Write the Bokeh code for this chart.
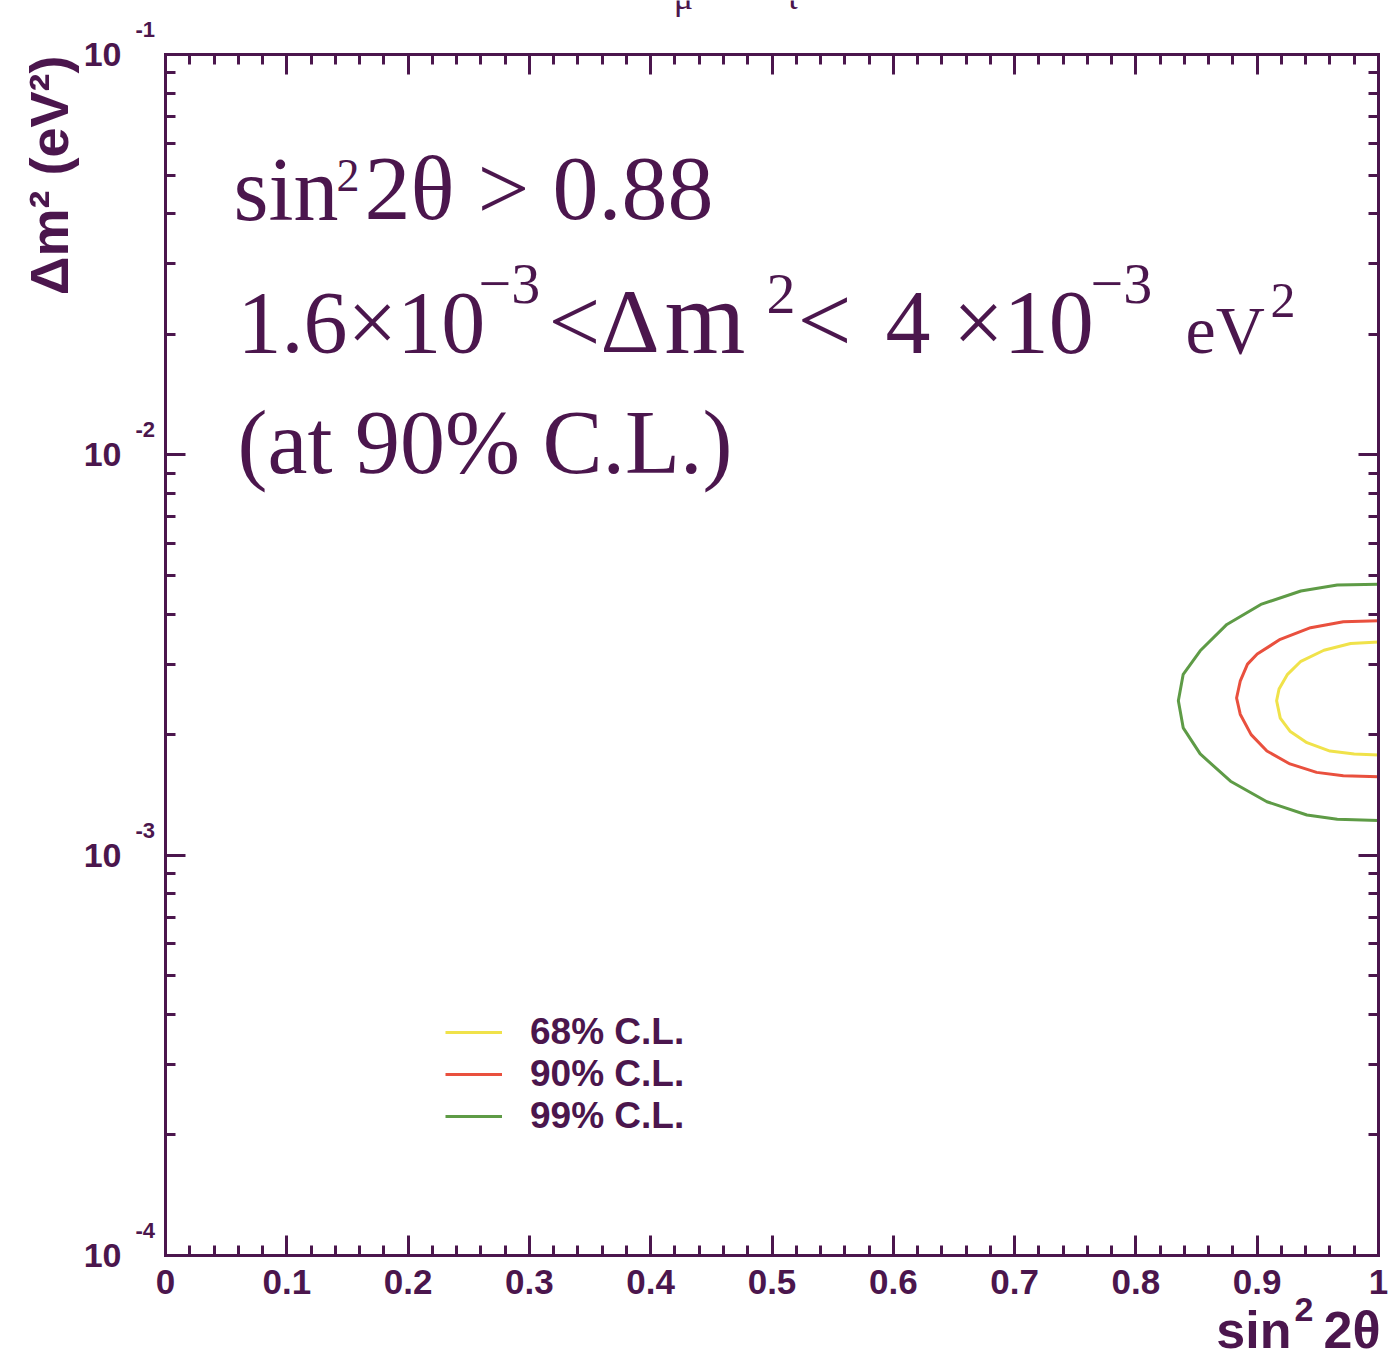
import math
from bokeh.plotting import figure
from bokeh.models import (Label, LinearAxis, LogAxis, FixedTicker, LogTicker,
                          Range1d, Legend, LegendItem, CustomJSTickFormatter)
from bokeh.embed import file_html
from bokeh.resources import INLINE

# ---- allowed-region contours (sin^2 2theta, delta m^2 in eV^2) ----
cl68_sin2 = [1.0, 0.977, 0.955, 0.936, 0.925, 0.918, 0.916, 0.919, 0.927, 0.941, 0.960, 0.980, 1.0]
cl68_dm2 = [3.41e-3, 3.38e-3, 3.25e-3, 3.05e-3, 2.83e-3, 2.60e-3, 2.43e-3, 2.20e-3, 2.04e-3,
            1.91e-3, 1.82e-3, 1.79e-3, 1.78e-3]

cl90_sin2 = [1.0, 0.971, 0.944, 0.919, 0.900, 0.892, 0.886, 0.883, 0.886, 0.895, 0.908,
             0.927, 0.949, 0.971, 1.0]
cl90_dm2 = [3.85e-3, 3.83e-3, 3.70e-3, 3.46e-3, 3.18e-3, 3.00e-3, 2.72e-3, 2.47e-3, 2.25e-3,
            2.00e-3, 1.82e-3, 1.69e-3, 1.61e-3, 1.58e-3, 1.57e-3]

cl99_sin2 = [1.0, 0.966, 0.936, 0.903, 0.875, 0.853, 0.839, 0.835, 0.839, 0.853, 0.878,
             0.908, 0.941, 0.966, 1.0]
cl99_dm2 = [4.75e-3, 4.73e-3, 4.57e-3, 4.23e-3, 3.77e-3, 3.24e-3, 2.83e-3, 2.43e-3, 2.08e-3,
            1.79e-3, 1.53e-3, 1.36e-3, 1.26e-3, 1.23e-3, 1.22e-3]

legend_labels = ["68% C.L.", "90% C.L.", "99% C.L."]
contour_colors = ["#f0e24a", "#e9503e", "#5e9b46"]

x_ticks = [0, 0.1, 0.2, 0.3, 0.4, 0.5, 0.6, 0.7, 0.8, 0.9, 1]
x_tick_labels = ["0", "0.1", "0.2", "0.3", "0.4", "0.5", "0.6", "0.7", "0.8", "0.9", "1"]
x_minor_ticks = [round(0.02 * i, 2) for i in range(51)]
y_decades = [1e-4, 1e-3, 1e-2, 1e-1]
y_exponents = ["-4", "-3", "-2", "-1"]

# ---- canvas geometry: the data box sits inside a full-canvas frame ----
W, H = 1393, 1360
BL, BR, BT, BB = 165, 15, 54, 105          # margins around the data box
FW = W - BL - BR
FH = H - BT - BB
DECADE = FH / 3.0
INK = "#4b164d"

X0, X1 = 0.0, 1.0
Y0, Y1 = 1e-4, 1e-1


def px2x(px):
    """Horizontal canvas pixel -> sin^2 2theta."""
    return X0 + (px - BL) / FW


def py2y(py):
    """Vertical canvas pixel (from top) -> delta m^2."""
    return 10 ** (math.log10(Y1) - (py - BT) / DECADE)


p = figure(width=W, height=H,
           x_range=Range1d(px2x(0), px2x(W)), y_range=Range1d(py2y(H), py2y(0)),
           y_axis_type="log", x_axis_location=None, y_axis_location=None,
           output_backend="svg", toolbar_location=None,
           min_border_left=0, min_border_right=0, min_border_top=0,
           min_border_bottom=0, background_fill_color="white",
           border_fill_color="white")
p.grid.visible = False
p.outline_line_color = None

# four axes pinned to the edges of the data box, ticks pointing inwards
ax_bottom = LinearAxis(fixed_location=Y0, bounds=(X0, X1))
ax_top = LinearAxis(fixed_location=Y1, bounds=(X0, X1))
ax_left = LogAxis(fixed_location=X0, bounds=(Y0, Y1))
ax_right = LogAxis(fixed_location=X1, bounds=(Y0, Y1))
p.add_layout(ax_bottom, "below")
p.add_layout(ax_top, "above")
p.add_layout(ax_left, "left")
p.add_layout(ax_right, "right")

blank = CustomJSTickFormatter(code="return ''")
for ax in (ax_bottom, ax_top):
    ax.ticker = FixedTicker(ticks=x_ticks, minor_ticks=x_minor_ticks)
for ax in (ax_left, ax_right):
    ax.ticker = LogTicker(num_minor_ticks=10)

for ax in (ax_bottom, ax_top, ax_left, ax_right):
    ax.axis_line_color = INK
    ax.axis_line_width = 3
    ax.axis_line_cap = "square"
    ax.major_tick_line_color = INK
    ax.major_tick_line_width = 3
    ax.minor_tick_line_color = INK
    ax.minor_tick_line_width = 3
    ax.major_tick_in = 20
    ax.major_tick_out = 0
    ax.minor_tick_in = 10
    ax.minor_tick_out = 0
    ax.major_label_standoff = 0
    ax.formatter = blank

ax_bottom.formatter = CustomJSTickFormatter(code="return tick.toString()")
ax_bottom.major_label_overrides = {t: s for t, s in zip(x_ticks, x_tick_labels)}
ax_bottom.major_label_text_font_size = "35px"
ax_bottom.major_label_text_font = "Liberation Sans"
ax_bottom.major_label_text_font_style = "bold"
ax_bottom.major_label_text_color = INK
ax_bottom.major_label_standoff = 14

# ---- contours ----
series = [(cl68_sin2, cl68_dm2), (cl90_sin2, cl90_dm2), (cl99_sin2, cl99_dm2)]
renderers = []
for (xs, ys), col in zip(series, contour_colors):
    renderers.append(p.line(xs, ys, line_color=col, line_width=3))

legend = Legend(items=[LegendItem(label=lab, renderers=[r])
                       for lab, r in zip(legend_labels, renderers)],
                location=(445, H - 1137), padding=0, margin=0, spacing=0,
                glyph_width=57, glyph_height=36, label_height=36,
                label_standoff=28, label_text_font="Liberation Sans",
                label_text_font_size="37px", label_text_font_style="bold",
                label_text_color=INK, border_line_alpha=0,
                background_fill_alpha=0)
p.add_layout(legend)

# the renderer places an "alphabetic" anchor a little below the true baseline
BASELINE_SHIFT = 0.37


def put(text, px, py, size, font="Liberation Serif", style="normal", align="left",
        baseline="alphabetic", angle=0.0):
    """Place a text at a canvas pixel position (origin top-left)."""
    if baseline == "alphabetic":
        py = py - BASELINE_SHIFT * size
    p.add_layout(Label(x=px2x(px), y=py2y(py), text=text, text_font=font,
                       text_font_size=f"{size}px", text_font_style=style,
                       text_color=INK, text_align=align, text_baseline=baseline,
                       angle=angle))


# y tick labels: 10 with a raised exponent
for d, e in zip(y_decades, y_exponents):
    p.add_layout(Label(x=px2x(121), y=d, text="10", text_font="Liberation Sans",
                       text_font_size="34px", text_font_style="bold", text_color=INK,
                       text_align="right", text_baseline="middle"))
    p.add_layout(Label(x=px2x(135), y=d * 10 ** (25 / DECADE), text=e,
                       text_font="Liberation Sans", text_font_size="22px",
                       text_font_style="bold", text_color=INK,
                       text_align="left", text_baseline="middle"))

# axis titles
put("\u0394m\u00b2 (eV\u00b2)", 48, 55, 54, font="Liberation Sans", style="bold",
    align="right", baseline="middle", angle=math.pi / 2)
put("2\u03b8", 1380, 1349, 52, font="Liberation Sans", style="bold", align="right")
put("2", 1313, 1322, 34, font="Liberation Sans", style="bold", align="right")
put("sin", 1291, 1349, 52, font="Liberation Sans", style="bold", align="right")

# header subscripts peeking in at the top edge
put("\u03bc", 683, 10, 36, align="center")
put("\u03c4", 792, 10, 36, align="center")

# result summary
put("sin", 233, 222, 90)
put("2", 336, 192, 46)
put("2\u03b8 > 0.88", 364, 222, 92)

put("1.6\u00d710", 237, 355, 88)
put("\u22123", 478, 305, 58)
put("<", 548, 355, 92)
put("\u0394", 600, 355, 92)
put("m", 664, 355, 104)
put("2", 766, 315, 58)
put("<", 797, 355, 96)
put("4 \u00d710", 885, 355, 90)
put("\u22123", 1090, 305, 58)
put("eV", 1185, 355, 68)
put("2", 1270, 318, 50)

put("(at 90% C.L.)", 237, 475, 90)

open("out.html", "w").write(file_html(p, INLINE))
